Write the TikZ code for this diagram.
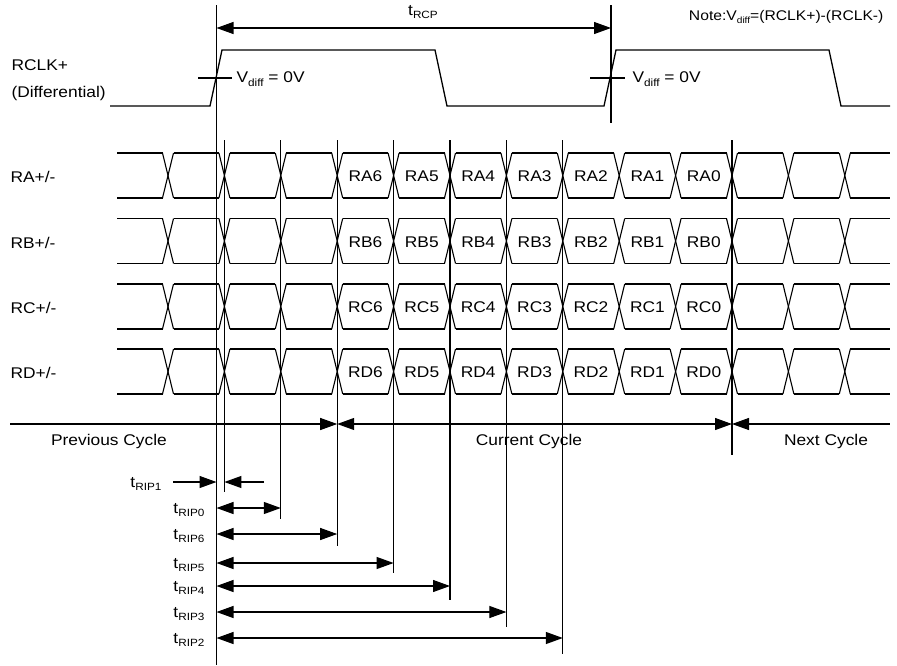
\documentclass[tikz,border=0pt]{standalone}
\usepackage{fontspec}
\setmainfont{Liberation Sans}[FakeStretch=1.12]
\usetikzlibrary{arrows.meta}

\newcommand{\lowtxt}[2][10.5]{\raisebox{-0.4ex}{\fontsize{#1}{#1}\selectfont #2}}

\tikzset{
    lbl/.style={font=\fontsize{15.5}{18}\selectfont, inner sep=0pt},
    tip/.style={-{Triangle[length=17pt,width=12pt]}},
    dtip/.style={{Triangle[length=17pt,width=12pt]}-{Triangle[length=17pt,width=12pt]}},
}

\begin{document}
\begin{tikzpicture}[x=1pt,y=-1pt,line width=1.1pt]
    \useasboundingbox (0,0) rectangle (897,665);

    % Clock waveform
    \draw[line width=1.3pt] (110,106) -- (210,106) -- (222,50) -- (435,50) -- (447,106)
        -- (604,106) -- (616,50) -- (829,50) -- (841,106) -- (890,106);
    \node[lbl, anchor=west] (rclk) at (11,65) {RCLK+};
    \node[lbl, anchor=west] (diff) at (11,93) {(Differential)};

    % Vdiff = 0V marks
    \draw (198,78) -- (232,78);
    \node[lbl, anchor=west] (vdiffa) at (236,79) {V\lowtxt{diff} = 0V};
    \draw (590,78) -- (625,78);
    \node[lbl, anchor=west] (vdiffb) at (632,79) {V\lowtxt{diff} = 0V};
    \node[lbl, anchor=east, font=\fontsize{14}{16}\selectfont] (note) at (884,17)
        {Note:V\lowtxt[9]{diff}=(RCLK+)-(RCLK-)};

    % Reference edges and clock period
    \coordinate (edgea) at (216.5,5);
    \coordinate (edgeb) at (611,5);
    \draw (edgea) -- (216.5,665);
    \draw (edgeb) -- (611,123);
    \draw[dtip] (216.5,28) -- (611,28);
    \node[lbl] (trcp) at (423,12) {t\lowtxt{RCP}};

    % Data lanes
    \foreach \ch/\yc in {A/175.5,B/241,C/306.5,D/371.5} {
        \node[lbl, anchor=west] (lane\ch) at (10,\yc+1.5) {R\ch+/-};
        \draw (117,\yc-22.5) -- (162.5,\yc-22.5);
        \draw (117,\yc+22.5) -- (162.5,\yc+22.5);
        \foreach \k in {0,...,12} {
            \pgfmathsetmacro{\cx}{168+56.4*\k}
            \pgfmathsetmacro{\nx}{min(\cx+50.9,890)}
            \draw (\cx-5.5,\yc-22.5) -- (\cx+5.5,\yc+22.5);
            \draw (\cx-5.5,\yc+22.5) -- (\cx+5.5,\yc-22.5);
            \draw (\cx+5.5,\yc-22.5) -- (\nx,\yc-22.5);
            \draw (\cx+5.5,\yc+22.5) -- (\nx,\yc+22.5);
        }
        \foreach \b in {6,...,0}
            \node[lbl] (R\ch\b) at (703.8-56.4*\b,\yc+1) {R\ch\b};
    }

    % Sampling edges
    \foreach \k/\ybot in {1/492,2/519,3/546,4/573,5/600,6/627,7/654,10/455} {
        \coordinate (smp\k) at (168+56.4*\k,140);
        \draw (smp\k) -- (168+56.4*\k,\ybot);
    }

    % Cycle boundaries
    \draw[tip] (10,424) -- (337.2,424);
    \draw[dtip] (337.2,424) -- (732,424);
    \draw[{Triangle[length=17pt,width=12pt]}-] (732,424) -- (890,424);
    \node[lbl] (prev) at (109,441) {Previous Cycle};
    \node[lbl] (curr) at (529,441) {Current Cycle};
    \node[lbl] (next) at (826,441) {Next Cycle};

    % Strobe positions
    \draw[tip] (173,482) -- (216.5,482);
    \draw[tip] (264,482) -- (224.4,482);
    \node[lbl, anchor=east] (rip1) at (162,484) {t\lowtxt{RIP1}};
    \foreach \n/\k/\yy in {0/2/508,6/3/534,5/4/563,4/5/586,3/6/612,2/7/638} {
        \draw[dtip] (216.5,\yy) -- (168+56.4*\k,\yy);
        \node[lbl, anchor=east] (rip\n) at (205,\yy+2) {t\lowtxt{RIP\n}};
    }
\end{tikzpicture}
\end{document}
